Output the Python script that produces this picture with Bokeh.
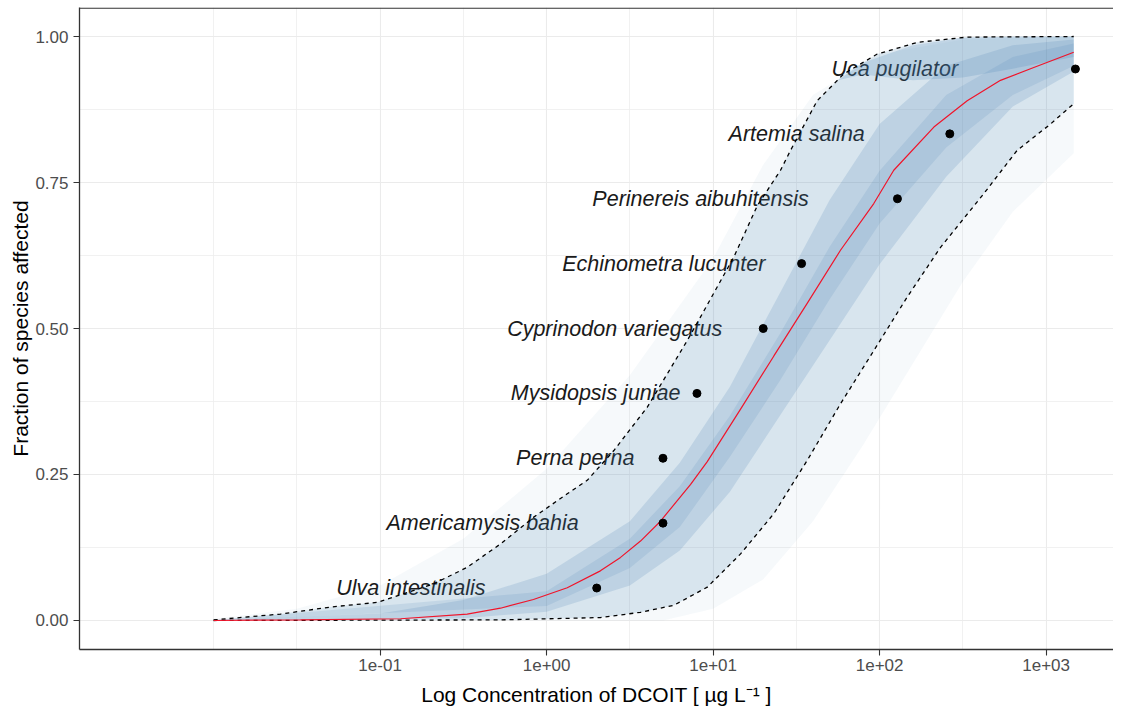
from bokeh.plotting import figure
from bokeh.models import Range1d, FixedTicker, CustomJSTickFormatter, PrintfTickFormatter, Span
from bokeh.core.properties import value
from bokeh.embed import file_html
from bokeh.resources import INLINE

# ---- data ----
species = ["Ulva intestinalis", "Americamysis bahia", "Perna perna", "Mysidopsis juniae",
           "Cyprinodon variegatus", "Echinometra lucunter", "Perinereis aibuhitensis",
           "Artemia salina", "Uca pugilator"]
conc = [2.0, 5.0, 5.0, 8.0, 20.0, 34.0, 128.0, 264.0, 1500.0]          # µg/L
frac = [0.0556, 0.1667, 0.2778, 0.3889, 0.5, 0.6111, 0.7222, 0.8333, 0.9444]
label_conc = [0.43, 1.56, 3.37, 6.37, 11.35, 20.6, 37.5, 81.5, 296.0]  # right end of each label

# fitted curve (log10 concentration, fraction)
fit_log = [-2.0, -1.478, -0.877, -0.477, -0.277, -0.079, 0.124, 0.323, 0.444, 0.564, 0.684,
           0.764, 0.865, 0.965, 1.165, 1.365, 1.565, 1.765, 1.965, 2.085, 2.326, 2.526, 2.726,
           2.926, 3.166]
fit_frac = [0.0, 0.001, 0.003, 0.011, 0.021, 0.036, 0.056, 0.085, 0.108, 0.136, 0.170,
            0.198, 0.233, 0.272, 0.362, 0.453, 0.543, 0.634, 0.714, 0.771, 0.845, 0.890, 0.925,
            0.947, 0.973]

# upper (left) 95% bound
upr_log = [-2.0, -1.598, -1.298, -1.017, -0.677, -0.477, -0.277, -0.077, 0.124, 0.244, 0.404,
           0.604, 0.724, 0.844, 0.923, 1.124, 1.265, 1.405, 1.465, 1.625, 1.785, 1.986, 2.226,
           2.526, 3.166]
upr_frac = [0.001, 0.011, 0.023, 0.031, 0.063, 0.091, 0.131, 0.177, 0.217, 0.240, 0.291,
            0.365, 0.422, 0.479, 0.519, 0.622, 0.710, 0.771, 0.805, 0.890, 0.936, 0.970, 0.990,
            0.999, 1.000]

# lower (right) 95% bound
lwr_log = [-2.0, -0.277, 0.323, 0.564, 0.764, 0.965, 1.165, 1.365, 1.565, 1.765, 1.965, 2.166,
           2.366, 2.626, 2.826, 3.026, 3.166]
lwr_frac = [0.0, 0.001, 0.005, 0.014, 0.026, 0.057, 0.114, 0.183, 0.274, 0.371, 0.462, 0.554,
            0.639, 0.731, 0.805, 0.850, 0.885]

# extent of the bootstrap cloud (outermost faint curves)
cloud_left_log = [-2.0, -1.5, -1.0, -0.5, 0.0, 0.5, 1.0, 1.3, 1.6, 2.0, 2.5, 3.166]
cloud_left_frac = [0.003, 0.02, 0.06, 0.14, 0.26, 0.42, 0.62, 0.78, 0.90, 0.97, 0.995, 1.0]
cloud_right_log = [-2.0, 0.7, 1.0, 1.3, 1.6, 1.9, 2.2, 2.5, 2.8, 3.166]
cloud_right_frac = [0.0, 0.0, 0.02, 0.07, 0.17, 0.30, 0.44, 0.58, 0.70, 0.80]

# dense part of the bootstrap cloud
core_left_log = [-2.0, -1.0, -0.5, 0.0, 0.5, 0.8, 1.1, 1.4, 1.7, 2.0, 2.4, 2.8, 3.166]
core_left_frac = [0.0005, 0.012, 0.035, 0.08, 0.17, 0.27, 0.40, 0.56, 0.72, 0.85, 0.95, 0.985, 0.995]
core_right_log = [-2.0, -0.5, 0.0, 0.5, 0.8, 1.1, 1.4, 1.7, 2.0, 2.4, 2.8, 3.166]
core_right_frac = [0.0, 0.004, 0.015, 0.06, 0.12, 0.22, 0.35, 0.48, 0.61, 0.76, 0.88, 0.94]

# densest strip around the fitted curve
inner_left_log = [-2.0, 0.0, 0.5, 0.8, 1.1, 1.4, 1.7, 2.0, 2.4, 2.8, 3.166]
inner_left_frac = [0.0003, 0.05, 0.14, 0.23, 0.35, 0.49, 0.64, 0.77, 0.90, 0.965, 0.988]
inner_right_log = [-2.0, 0.0, 0.5, 0.8, 1.1, 1.4, 1.7, 2.0, 2.4, 2.8, 3.166]
inner_right_frac = [0.0, 0.025, 0.09, 0.16, 0.28, 0.41, 0.55, 0.68, 0.81, 0.90, 0.95]

# converging curves just below 1.0 (darkest part of the cloud)
top_upper_log = [1.75, 1.9, 2.2, 2.5, 2.8, 3.166]
top_upper_frac = [0.925, 0.955, 0.985, 0.998, 1.0, 1.0]
top_lower_log = [1.75, 1.9, 2.2, 2.5, 2.8, 3.166]
top_lower_frac = [0.925, 0.935, 0.925, 0.93, 0.945, 0.965]

x_major = [0.1, 1, 10, 100, 1000]
x_minor_log = [-2.0, -1.5, -0.5, 0.5, 1.5, 2.5]
y_major = [0.0, 0.25, 0.5, 0.75, 1.0]
y_minor = [0.125, 0.375, 0.625, 0.875]


def c(logs):
    return [10 ** v for v in logs]


def band(l_log, l_frac, r_log, r_frac):
    xs = c(l_log) + c(r_log)[::-1]
    ys = list(l_frac) + list(r_frac)[::-1]
    return xs, ys


FONT = "Liberation Sans"
Y0, Y1 = -0.0497, 1.0497

p = figure(width=1113, height=712, x_axis_type="log",
           x_range=Range1d(10 ** -2.8054, 10 ** 3.4048),
           y_range=Range1d(Y0, Y1),
           output_backend="svg", toolbar_location=None,
           min_border_left=79, min_border_right=0, min_border_top=7, min_border_bottom=63)
p.outline_line_color = None
p.background_fill_color = "white"
p.border_fill_color = "white"

# labels (drawn first, beneath the curves)
p.text(x=label_conc, y=frac, text=species, text_align="right", text_baseline="middle",
       text_font=value(FONT), text_font_style="italic", text_font_size="21.5px",
       text_color="#1A1A1A")

# bootstrap cloud
BLUE = "#4682B4"
xs, ys = band(cloud_left_log, cloud_left_frac, cloud_right_log, cloud_right_frac)
p.patch(xs, ys, fill_color=BLUE, fill_alpha=0.05, line_color=None)
xs, ys = band(upr_log, upr_frac, lwr_log, lwr_frac)
p.patch(xs, ys, fill_color=BLUE, fill_alpha=0.17, line_color=None)
xs, ys = band(core_left_log, core_left_frac, core_right_log, core_right_frac)
p.patch(xs, ys, fill_color=BLUE, fill_alpha=0.18, line_color=None)
xs, ys = band(inner_left_log, inner_left_frac, inner_right_log, inner_right_frac)
p.patch(xs, ys, fill_color=BLUE, fill_alpha=0.14, line_color=None)
xs, ys = band(top_upper_log, top_upper_frac, top_lower_log, top_lower_frac)
p.patch(xs, ys, fill_color=BLUE, fill_alpha=0.2, line_color=None)

# bounds and fit
p.line(c(upr_log), upr_frac, line_color="black", line_dash="4 4", line_width=1.3)
p.line(c(lwr_log), lwr_frac, line_color="black", line_dash="4 4", line_width=1.3)
p.line(c(fit_log), fit_frac, line_color="#F0142A", line_width=1.2)

p.scatter(conc, frac, size=8, color="black")

# axes
p.xaxis.ticker = FixedTicker(ticks=x_major, minor_ticks=c(x_minor_log))
p.xaxis.formatter = CustomJSTickFormatter(code="""
const e = Math.round(Math.log10(tick));
const a = Math.abs(e);
return '1e' + (e < 0 ? '-' : '+') + (a < 10 ? '0' : '') + a;
""")
p.yaxis.ticker = FixedTicker(ticks=y_major, minor_ticks=y_minor)
p.yaxis.formatter = PrintfTickFormatter(format="%.2f")
p.xaxis.axis_label = "Log Concentration of DCOIT [ \u00b5g L\u207b\u00b9 ]"
p.yaxis.axis_label = "Fraction of species affected"

for ax in (p.xaxis, p.yaxis):
    ax.axis_label_text_font = FONT
    ax.axis_label_text_font_style = "normal"
    ax.axis_label_text_font_size = "21px"
    ax.axis_label_text_color = "black"
    ax.major_label_text_font = FONT
    ax.major_label_text_font_size = "17px"
    ax.major_label_text_color = "#4D4D4D"
    ax.axis_line_color = "#333333"
    ax.axis_line_width = 1.3
    ax.major_tick_line_color = "#333333"
    ax.major_tick_line_width = 1.1
    ax.major_tick_out = 6
    ax.major_tick_in = 0
    ax.minor_tick_line_color = None

p.yaxis.major_label_standoff = 5
p.yaxis.axis_label_standoff = 0
p.xaxis.major_label_standoff = 3
p.xaxis.axis_label_standoff = 9

for g in (p.xgrid, p.ygrid):
    g.grid_line_color = "#EBEBEB"
    g.grid_line_width = 1.1
    g.minor_grid_line_color = "#EEEEEE"
    g.minor_grid_line_width = 0.8

p.add_layout(Span(location=Y1 - 0.6 / 584, dimension="width", line_color="#333333",
                  line_width=1.3))

open("out.html", "w").write(file_html(p, INLINE))
